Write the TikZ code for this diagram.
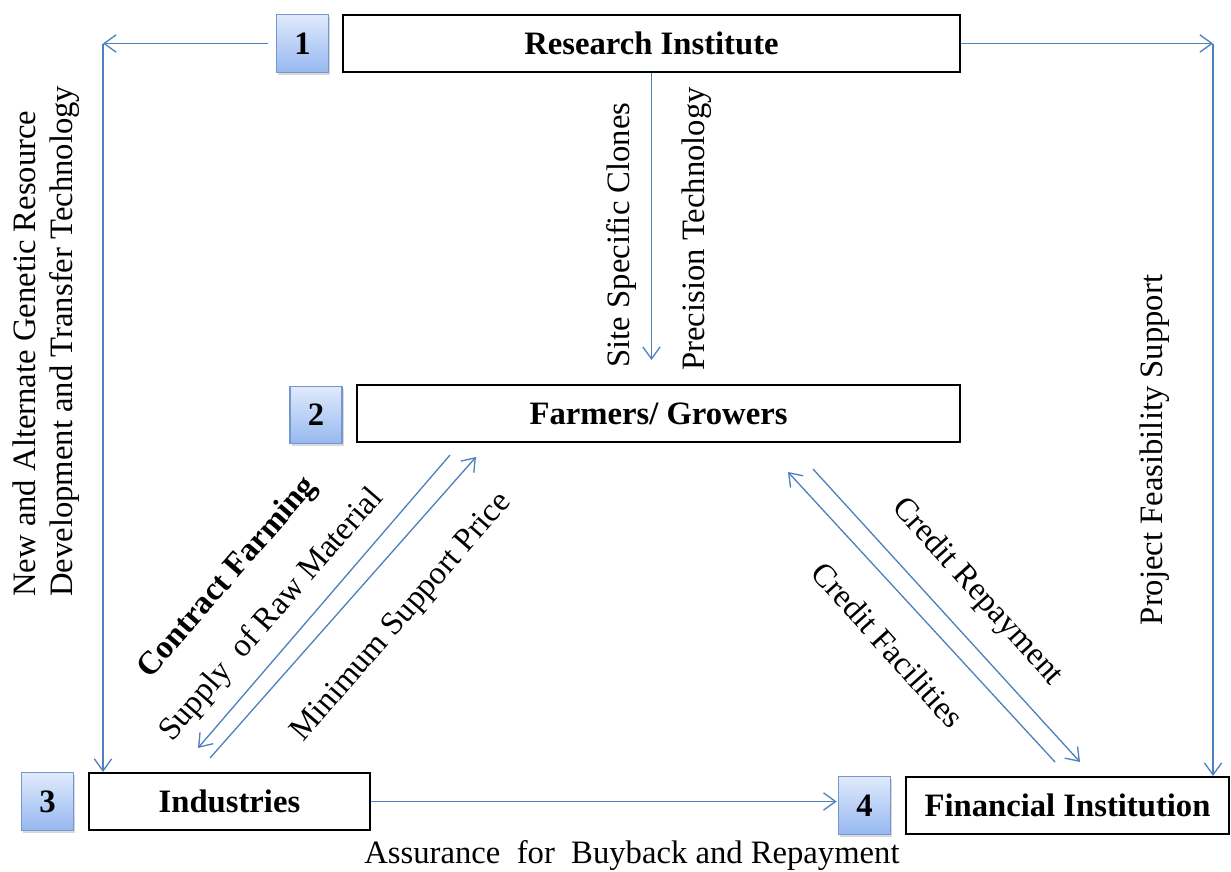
\documentclass[tikz,border=0pt]{standalone}
\usepackage{fontspec}
\setmainfont{Liberation Serif}
\usepackage{xcolor}
\usetikzlibrary{calc}
\usetikzlibrary{arrows.meta}
\usetikzlibrary{shadows}
\definecolor{link-blue}{RGB}{79, 129, 189}
\definecolor{num-top}{RGB}{224, 234, 252}
\definecolor{num-bottom}{RGB}{150, 184, 240}
\definecolor{num-edge}{RGB}{118, 150, 206}

\tikzset{
  numbox/.style={draw=num-edge, line width=0.8pt, top color=num-top, bottom color=num-bottom,
    minimum width=39pt, minimum height=43pt, inner sep=0pt,
    font=\fontsize{24.5}{27}\selectfont\bfseries,
    drop shadow={shadow xshift=1.2pt, shadow yshift=-1.8pt, opacity=0.3}},
  actorbox/.style={draw=black, line width=1.3pt, fill=white, minimum height=43pt, inner sep=0pt,
    font=\fontsize{24.5}{27}\selectfont\bfseries},
  link/.style={draw=link-blue, line width=1pt, -{Straight Barb[length=9pt,width=13pt]}},
  lbl/.style={font=\fontsize{24.5}{27.75}\selectfont, inner sep=0pt}
}

\begin{document}
\begin{tikzpicture}[x=0.75pt, y=-0.75pt]
\useasboundingbox (0,0) rectangle (1231,871);

\node[numbox] (num1) at (302.5,43.5) {1};
\node[actorbox, minimum width=462.75pt] (research) at (651.5,43.5) {Research Institute};
\node[numbox] (num2) at (316,415) {2};
\node[actorbox, minimum width=452.25pt] (farmers) at (658.5,413.5) {Farmers/ Growers};
\node[numbox] (num3) at (47.5,801.5) {3};
\node[actorbox, minimum width=210.75pt] (industries) at (229.5,801.5) {Industries};
\node[numbox] (num4) at (864.5,805.5) {4};
\node[actorbox, minimum width=242.25pt] (finance) at (1067.5,805.5) {Financial Institution};

\coordinate (tl) at (103,43.5);
\coordinate (tr) at (1213,43.5);
\coordinate (rdown) at (651.5,360);
\coordinate (supA) at (450,455);
\coordinate (supB) at (198,748);
\coordinate (minA) at (210,758);
\coordinate (minB) at (476,457);
\coordinate (cfA) at (1055,762);
\coordinate (cfB) at (788,472);
\coordinate (crA) at (813,469);
\coordinate (crB) at (1080,762);

\draw[link, shorten <=6pt] (num1.west) -- (tl);
\draw[link] (tl) -- (tl |- industries.north);
\draw[link] (research.east) -- (tr);
\draw[link] (tr) -- (tr |- finance.north);
\draw[link] (research.south) -- (rdown);
\draw[link] (supA) -- (supB);
\draw[link] (minA) -- (minB);
\draw[link] (cfA) -- (cfB);
\draw[link] (crA) -- (crB);
\draw[link, shorten >=1pt] (industries.east) -- (industries.east -| num4.west);

\node[lbl, rotate=90, anchor=west, align=left] (genetic) at (46,597)
  {New and Alternate Genetic Resource\\Development and Transfer Technology};
\node[lbl, rotate=90] (clones) at (621,235) {Site Specific Clones};
\node[lbl, rotate=90] (precision) at (697,229) {Precision Technology};
\node[lbl, rotate=90] (feasibility) at (1155,450) {Project Feasibility Support};
\node[lbl, rotate=49, font=\fontsize{24.5}{27}\selectfont\bfseries] (contract) at (228,578) {Contract Farming};
\node[lbl, rotate=49] (supply) at (272,615) {Supply\ \ of Raw Material};
\node[lbl, rotate=49] (msp) at (402,618) {Minimum Support Price};
\node[lbl, rotate=-48] (repay) at (977,592) {Credit Repayment};
\node[lbl, rotate=-48] (facility) at (888,645) {Credit Facilities};
\node[lbl] (assurance) at (632,856) {Assurance\ \ for\ \ Buyback and Repayment};

\end{tikzpicture}
\end{document}
